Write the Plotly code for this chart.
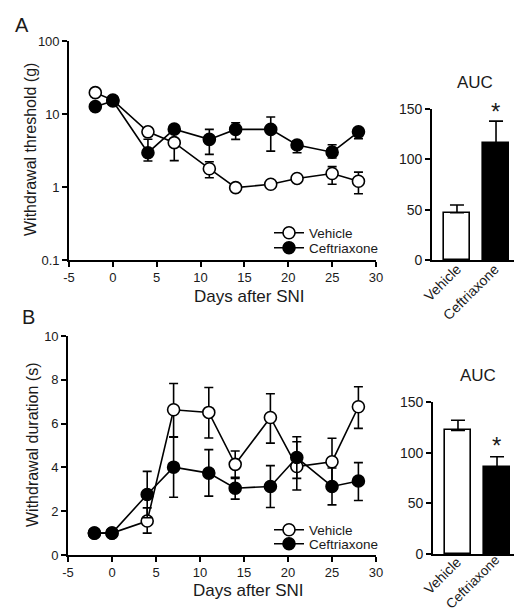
import plotly.graph_objects as go

W, H = 522, 613

# ---------------- data ----------------
days = [-2, 0, 4, 7, 11, 14, 18, 21, 25, 28]

veh_thr = [19.6, 15.5, 5.7, 4.05, 1.78, 0.98, 1.09, 1.31, 1.53, 1.2]
veh_thr_hi = [19.6, 15.5, 6.3, 5.5, 2.22, 1.03, 1.14, 1.37, 1.9, 1.6]
veh_thr_lo = [19.6, 15.5, 5.1, 2.3, 1.34, 0.93, 1.04, 1.25, 1.09, 0.81]

cef_thr = [12.6, 15.1, 2.95, 6.2, 4.49, 6.15, 6.15, 3.76, 3.0, 5.7]
cef_thr_hi = [12.6, 15.1, 4.5, 6.8, 6.15, 7.6, 9.1, 4.26, 3.8, 6.4]
cef_thr_lo = [12.6, 15.1, 2.27, 5.6, 2.8, 4.49, 3.1, 2.95, 2.5, 4.6]

veh_dur = [1.0, 1.0, 1.55, 6.63, 6.51, 4.14, 6.28, 4.04, 4.26, 6.77]
veh_dur_hi = [1.0, 1.0, 2.15, 7.83, 7.65, 4.75, 7.36, 5.17, 5.33, 7.68]
veh_dur_lo = [1.0, 1.0, 1.0, 5.4, 5.34, 3.5, 5.11, 2.97, 3.2, 5.78]

cef_dur = [1.0, 1.0, 2.76, 4.01, 3.74, 3.05, 3.13, 4.45, 3.13, 3.38]
cef_dur_hi = [1.0, 1.0, 3.82, 5.38, 4.81, 3.55, 4.08, 5.4, 3.97, 4.22]
cef_dur_lo = [1.0, 1.0, 1.7, 2.64, 2.69, 2.55, 2.17, 3.5, 2.29, 2.49]

groups = ["Vehicle", "Ceftriaxone"]
auc_thr = [47, 116]
auc_thr_hi = [54.7, 138]
auc_dur = [122, 85.6]
auc_dur_hi = [132, 96]

x_ticks = [-5, 0, 5, 10, 15, 20, 25, 30]
x_tick_text = ["-5", "0", "5", "10", "15", "20", "25", "30"]
log_ticks = [0.1, 1, 10, 100]
log_tick_text = ["0.1", "1", "10", "100"]
dur_ticks = [0, 2, 4, 6, 8, 10]
auc_ticks = [0, 50, 100, 150]

# ---------------- helpers ----------------
FONT = "Arial, Liberation Sans, Helvetica, sans-serif"
TXT = "#1a1a1a"


def px_x(p):
    return p / W


def px_y(p):
    return (H - p) / H


def diff(a, b):
    return [x - y for x, y in zip(a, b)]


fig = go.Figure()


def line_trace(x, y, hi, lo, name, filled, xa, ya, legend):
    return go.Scatter(
        x=x, y=y, name=name, mode="lines+markers",
        xaxis=xa, yaxis=ya, legend=legend,
        line=dict(color="black", width=1.6),
        marker=dict(size=12, symbol="circle",
                    color="black" if filled else "white",
                    line=dict(color="black", width=1.6)),
        error_y=dict(type="data", symmetric=False,
                     array=diff(hi, y), arrayminus=diff(y, lo),
                     color="black", thickness=1.6, width=4.5),
        cliponaxis=False,
    )


fig.add_trace(line_trace(days, veh_thr, veh_thr_hi, veh_thr_lo, "Vehicle", False, "x", "y", "legend"))
fig.add_trace(line_trace(days, cef_thr, cef_thr_hi, cef_thr_lo, "Ceftriaxone", True, "x", "y", "legend2"))
fig.add_trace(line_trace(days, veh_dur, veh_dur_hi, veh_dur_lo, "Vehicle", False, "x3", "y3", "legend3"))
fig.add_trace(line_trace(days, cef_dur, cef_dur_hi, cef_dur_lo, "Ceftriaxone", True, "x3", "y3", "legend4"))


def bar_trace(vals, hi, xa, ya):
    return go.Bar(
        x=groups, y=vals, xaxis=xa, yaxis=ya, showlegend=False,
        width=0.667,
        marker=dict(color=["white", "black"], line=dict(color="black", width=1.6)),
        error_y=dict(type="data", symmetric=False, array=diff(hi, vals),
                     arrayminus=[0, 0], color="black", thickness=1.6, width=7),
    )


fig.add_trace(bar_trace(auc_thr, auc_thr_hi, "x2", "y2"))
fig.add_trace(bar_trace(auc_dur, auc_dur_hi, "x4", "y4"))

axis_common = dict(showline=True, linecolor="black", linewidth=1.6,
                   ticks="outside", ticklen=5, tickwidth=1.6, tickcolor="black",
                   showgrid=False, zeroline=False, automargin=False,
                   tickfont=dict(family=FONT, size=13, color=TXT))
bar_x = {**axis_common, "ticks": "", "ticklen": 0, "showticklabels": False}
bar_y = {**axis_common, "tickfont": dict(family=FONT, size=14, color=TXT)}


def legend_at(x, y):
    return dict(x=px_x(x), y=px_y(y), xanchor="left", yanchor="middle",
                bgcolor="rgba(0,0,0,0)", font=dict(family=FONT, size=13.5, color=TXT),
                itemwidth=30, tracegroupgap=0)


fig.update_layout(
    width=W, height=H,
    margin=dict(l=0, r=0, t=0, b=0, autoexpand=False),
    paper_bgcolor="white", plot_bgcolor="white",
    font=dict(family=FONT, color=TXT),
    bargap=0,
    xaxis=dict(domain=[px_x(61), px_x(368)], range=[-5, 30], tickvals=x_ticks,
               ticktext=x_tick_text, anchor="y", **axis_common),
    yaxis=dict(domain=[px_y(252), px_y(33)], type="log", range=[-1, 2],
               tickvals=log_ticks, ticktext=log_tick_text, anchor="x", **axis_common),
    xaxis2=dict(domain=[px_x(424), px_x(513)], range=[-0.64, 1.64], anchor="y2", **bar_x),
    yaxis2=dict(domain=[px_y(252), px_y(101)], range=[0, 150], tickvals=auc_ticks,
                anchor="x2", **bar_y),
    xaxis3=dict(domain=[px_x(60), px_x(368)], range=[-5, 30], tickvals=x_ticks,
                ticktext=x_tick_text, anchor="y3", **axis_common),
    yaxis3=dict(domain=[px_y(547), px_y(328)], range=[0, 10], tickvals=dur_ticks,
                anchor="x3", **axis_common),
    xaxis4=dict(domain=[px_x(425), px_x(514)], range=[-0.64, 1.64], anchor="y4", **bar_x),
    yaxis4=dict(domain=[px_y(546), px_y(394)], range=[0, 150], tickvals=auc_ticks,
                anchor="x4", **bar_y),
    legend=legend_at(261, 225),
    legend2=legend_at(261, 240),
    legend3=legend_at(261, 522),
    legend4=legend_at(261, 536),
)

ann = []


def add_text(text, x, y, size, angle=0, pad=1):
    ann.append(dict(text=text, x=px_x(x), y=px_y(y), xref="paper", yref="paper",
                    showarrow=False, xanchor="center", yanchor="middle",
                    textangle=angle, borderpad=pad,
                    font=dict(family=FONT, size=size, color=TXT)))


add_text("A", 14, 17, 20)
add_text("B", 20, 309, 20)
add_text("Withdrawal threshold (g)", 22, 142, 16, -90)
add_text("Withdrawal duration (s)", 24, 437, 16, -90)
add_text("Days after SNI", 241, 288, 17)
add_text("Days after SNI", 240, 582, 17)
add_text("AUC", 467, 75, 17)
add_text("AUC", 470, 367, 17)
add_text("*", 487, 103, 24)
add_text("*", 488, 437, 24)
# rotated category labels under the AUC bars
add_text(groups[0], 434, 275, 14, -45, 0)
add_text(groups[1], 463, 284, 14, -45, 0)
add_text(groups[0], 434, 568, 14, -45, 0)
add_text(groups[1], 464, 574, 13.5, -45, 0)

fig.update_layout(annotations=ann)

fig.write_html("out.html")
